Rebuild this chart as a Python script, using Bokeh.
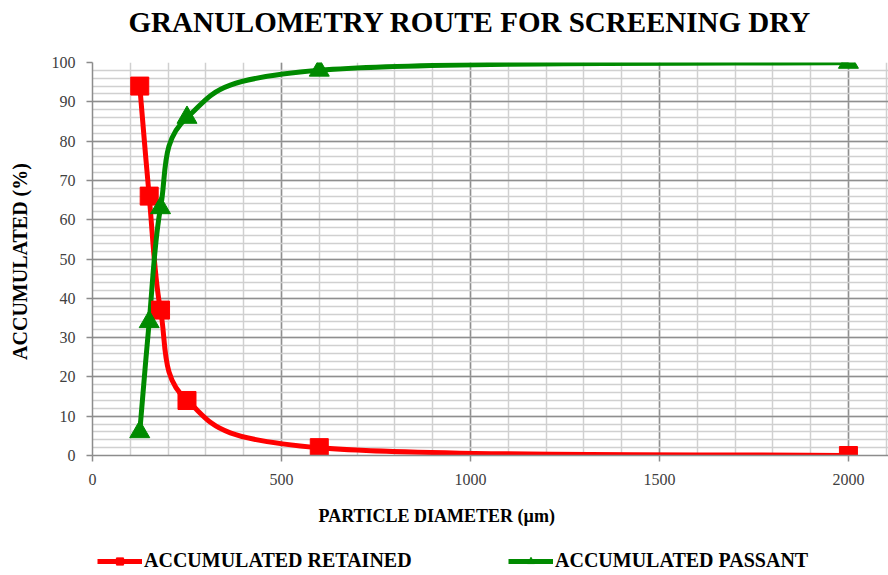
import numpy as np
from bokeh.plotting import figure
from bokeh.layouts import column
from bokeh.models import (Range1d, SingleIntervalTicker, Legend, LegendItem, ColumnDataSource, Title)
from bokeh.embed import file_html
from bokeh.resources import INLINE

# ---- data ----
diameter = [125, 150, 180, 250, 600, 2000]
retained = [94, 66, 37, 14, 2, 0]
passant = [6, 34, 63, 86, 98, 100]
x_ticks_interval = 500
y_ticks_interval = 10
title_text = "GRANULOMETRY ROUTE FOR SCREENING DRY"
x_label = "PARTICLE  DIAMETER  (µm)"
y_label = "ACCUMULATED  (%)"
series_names = ["ACCUMULATED RETAINED", "ACCUMULATED PASSANT"]

FONT = "Liberation Serif"
RED = "#ff0000"
GREEN = "#008a00"

# ---- header strip carrying the chart title ----
p0 = figure(width=888, height=44, output_backend="svg", toolbar_location=None,
            x_axis_location=None, y_axis_location=None, min_border=0)
p0.outline_line_color = None
p0.title.text = title_text
p0.title.text_font = FONT
p0.title.text_font_size = "29px"
p0.title.text_font_style = "bold"
p0.title.align = "left"
p0.title.offset = 36
p0.title.vertical_align = "bottom"
p0.title.standoff = 6
p0.title.text_color = "black"

# ---- main chart ----
p = figure(width=888, height=502, output_backend="svg", toolbar_location=None,
           x_range=Range1d(0, 2106), y_range=Range1d(0, 100),
           min_border_left=92, min_border_top=18, min_border_right=0, min_border_bottom=91)
p.outline_line_color = None

p.xaxis.ticker = SingleIntervalTicker(interval=x_ticks_interval, num_minor_ticks=5)
p.yaxis.ticker = SingleIntervalTicker(interval=y_ticks_interval, num_minor_ticks=5)

for ax in (p.xaxis, p.yaxis):
    ax.axis_line_color = "#8c8c8c"
    ax.axis_line_width = 1.5
    ax.major_tick_line_color = "#8c8c8c"
    ax.major_tick_line_width = 1.5
    ax.minor_tick_line_color = None
    ax.major_tick_out = 6
    ax.major_tick_in = 0
    ax.major_label_text_font = FONT
    ax.major_label_text_font_size = "16px"
    ax.major_label_text_color = "#404040"
    ax.axis_label_text_font = FONT
    ax.axis_label_text_font_style = "bold"
    ax.axis_label_text_font_size = "20px"
    ax.axis_label_text_color = "black"

p.xaxis.major_label_standoff = 12
p.yaxis.major_label_standoff = 11
p.yaxis.axis_label = y_label
p.yaxis.axis_label_standoff = 18

for g in (p.xgrid, p.ygrid):
    g.grid_line_color = "#8f8f8f"
    g.grid_line_width = 1.5
    g.minor_grid_line_color = "#d0d0d0"
    g.minor_grid_line_width = 1.5

def smooth_ctrl(xs, ys):
    xs = np.asarray(xs, float); ys = np.asarray(ys, float)
    n = len(xs)
    xp = np.concatenate([[xs[0]], xs, [xs[-1]]])
    yp = np.concatenate([[ys[0]], ys, [ys[-1]]])
    x0, y0 = xs[:-1], ys[:-1]
    x1, y1 = xs[1:], ys[1:]
    cx0 = x0 + (xp[2:n+1] - xp[0:n-1]) / 6
    cy0 = y0 + (yp[2:n+1] - yp[0:n-1]) / 6
    cx1 = x1 - (xp[3:n+2] - xp[1:n]) / 6
    cy1 = y1 - (yp[3:n+2] - yp[1:n]) / 6
    return dict(x0=x0, y0=y0, x1=x1, y1=y1, cx0=cx0, cy0=cy0, cx1=cx1, cy1=cy1)

p.bezier(source=ColumnDataSource(smooth_ctrl(diameter, retained)), x0="x0", y0="y0", x1="x1", y1="y1",
         cx0="cx0", cy0="cy0", cx1="cx1", cy1="cy1", line_color=RED, line_width=5)
p.bezier(source=ColumnDataSource(smooth_ctrl(diameter, passant)), x0="x0", y0="y0", x1="x1", y1="y1",
         cx0="cx0", cy0="cy0", cx1="cx1", cy1="cy1", line_color=GREEN, line_width=5)
p.scatter(diameter, retained, marker="square", size=18, color=RED)
p.scatter(diameter, passant, marker="triangle", size=20, color=GREEN)

# x-axis title as a below-panel title (placed off-centre as in the reference)
p.add_layout(Title(text=x_label, text_font=FONT, text_font_style="bold", text_font_size="18px",
                   text_color="black", align="left", offset=226, standoff=32), "below")

# ---- legend strip underneath (its own small figure; series drawn out of view) ----
p2 = figure(width=888, height=29, output_backend="svg", toolbar_location=None,
            x_axis_location=None, y_axis_location=None, min_border=0,
            x_range=Range1d(-20, -10), y_range=Range1d(-20, -10))
p2.outline_line_color = None
p2.grid.visible = False
rl = p2.line(diameter, retained, line_color=RED, line_width=5)
gl = p2.line(diameter, passant, line_color=GREEN, line_width=5)
rm = p2.scatter(diameter, retained, marker="square", size=10, color=RED)
gm = p2.scatter(diameter, passant, marker="triangle", size=11, color=GREEN)

legend = Legend(items=[LegendItem(label=series_names[0], renderers=[rl, rm]),
                       LegendItem(label=series_names[1], renderers=[gl, gm])],
                orientation="horizontal", location=(5, 3),
                glyph_width=45, glyph_height=18, label_standoff=2, spacing=20,
                label_width=344, padding=0, margin=0,
                label_text_font=FONT, label_text_font_style="bold", label_text_font_size="20px",
                label_text_color="black",
                border_line_color=None, background_fill_alpha=0)
p2.add_layout(legend, "center")

open("out.html", "w").write(file_html(column(p0, p, p2, spacing=0), INLINE))
